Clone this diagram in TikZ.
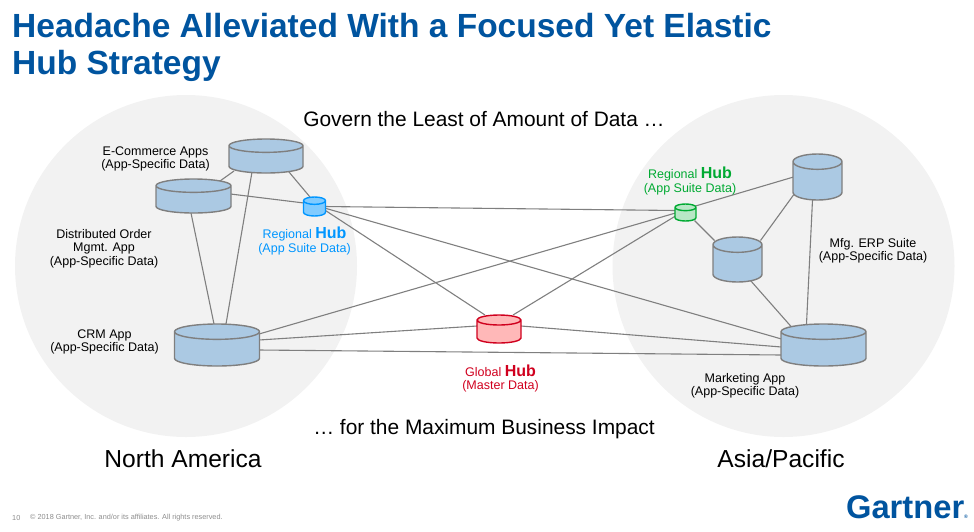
\documentclass[tikz,border=0pt]{standalone}
\usepackage{fontspec}
\setmainfont{Liberation Sans}
\usetikzlibrary{shapes.geometric,backgrounds}
\definecolor{gartblue}{RGB}{0,84,159}
\definecolor{discgrey}{RGB}{242,242,242}
\definecolor{dbgrey}{RGB}{127,127,127}
\definecolor{dbbody}{RGB}{171,201,227}
\definecolor{bluehub}{RGB}{0,150,255}
\definecolor{greenhub}{RGB}{0,170,50}
\definecolor{redhub}{RGB}{208,0,30}
\tikzset{
  {db/.style} ={cylinder, shape border rotate=90, draw=dbgrey, line width=1.4pt,
                cylinder uses custom fill, cylinder body fill=dbbody,
                cylinder end fill=dbbody, outer sep=0, anchor=shape center},
  {hub/.style 2 args} ={db, draw=#1, cylinder body fill=#2, cylinder end fill=#2},
  {disc/.style} ={circle, fill=discgrey, minimum size=342pt, inner sep=0},
  {link/.style} ={draw=dbgrey, line width=1.1pt},
  {caption/.style} ={align=center, inner sep=0, font=\fontsize{12.5}{13.5}\selectfont},
  {claim/.style} ={inner sep=0, font=\fontsize{20.9}{24}\selectfont},
  {region/.style} ={inner sep=0, font=\fontsize{24.6}{30}\selectfont},
  {foot/.style} ={inner sep=0, anchor=west, text=black!45, font=\fontsize{7.3}{9}\selectfont},
}
\newcommand{\hubword}{\textbf{\fontsize{16}{13.5}\selectfont Hub}}
\begin{document}
\begin{tikzpicture}[x=1pt,y=-1pt]
    \useasboundingbox (0,0) rectangle (974,531);
    \node[inner sep=0,anchor=north west,align=left,text=gartblue,
      font=\bfseries\fontsize{33.5}{37}\selectfont] (title) at (12,13)
      {Headache Alleviated With a Focused Yet Elastic\\Hub Strategy};
    % stores
    \node[db,minimum width=74pt,minimum height=34pt,shape aspect=2] (ecom) at (266,156) {};
    \node[db,minimum width=75pt,minimum height=34pt,shape aspect=2] (order) at (193.5,196) {};
    \node[db,minimum width=85pt,minimum height=42pt,shape aspect=2.3] (crm) at (217,345) {};
    \node[db,minimum width=49pt,minimum height=46pt,shape aspect=2.3] (erptop) at (817.5,177) {};
    \node[db,minimum width=49pt,minimum height=45pt,shape aspect=2.3] (erplow) at (737.5,259.5) {};
    \node[db,minimum width=85pt,minimum height=42pt,shape aspect=2.3] (market) at (823.5,345) {};
    % hubs
    \node[hub={bluehub}{bluehub!50},minimum width=22pt,minimum height=19pt,shape aspect=1.1] (blue) at (314.5,206.5) {};
    \node[hub={greenhub}{greenhub!28},minimum width=21pt,minimum height=17pt,shape aspect=1] (green) at (685.5,212.5) {};
    \node[hub={redhub}{red!28},minimum width=44pt,minimum height=28pt,shape aspect=1.5] (global) at (499,329) {};
    \begin{scope}[on background layer]
      \node[disc] (america) at (186,266) {};
      \node[disc] (asia) at (783.5,266) {};
      \draw[link] ([shift={(-32,15)}]ecom.shape center) -- ([shift={(26.5,-15)}]order.shape center);
      \draw[link] ([shift={(-14,16)}]ecom.shape center) -- ([shift={(9,-21)}]crm.shape center);
      \draw[link] ([shift={(23,16)}]ecom.shape center) -- ([shift={(-4.5,-9.5)}]blue.shape center);
      \draw[link] ([shift={(-2.5,17)}]order.shape center) -- ([shift={(-3,-21)}]crm.shape center);
      \draw[link] ([shift={(37,-2)}]order.shape center) -- ([shift={(-10.5,-3.5)}]blue.shape center);
      \draw[link] ([shift={(10,0)}]blue.shape center) -- ([shift={(-10,-2)}]green.shape center);
      \draw[link] ([shift={(10,1.5)}]blue.shape center) -- ([shift={(-42,-6)}]market.shape center);
      \draw[link] ([shift={(11,4)}]blue.shape center) -- ([shift={(-14,-14)}]global.shape center);
      \draw[link] ([shift={(42,-11)}]crm.shape center) -- ([shift={(-10,0.5)}]green.shape center);
      \draw[link] ([shift={(42,-5)}]crm.shape center) -- ([shift={(-22,-3)}]global.shape center);
      \draw[link] ([shift={(42,5)}]crm.shape center) -- ([shift={(-42,10)}]market.shape center);
      \draw[link] ([shift={(22,-3)}]global.shape center) -- ([shift={(-42,2)}]market.shape center);
      \draw[link] ([shift={(14,-14)}]global.shape center) -- ([shift={(-10,3.5)}]green.shape center);
      \draw[link] ([shift={(10,-6.5)}]green.shape center) -- ([shift={(-24,0)}]erptop.shape center);
      \draw[link] ([shift={(9,8)}]green.shape center) -- ([shift={(-23,-19)}]erplow.shape center);
      \draw[link] ([shift={(23,-19)}]erplow.shape center) -- ([shift={(-24,18)}]erptop.shape center);
      \draw[link] ([shift={(13,21)}]erplow.shape center) -- ([shift={(-32,-18)}]market.shape center);
      \draw[link] ([shift={(-5,23)}]erptop.shape center) -- ([shift={(-17,-21)}]market.shape center);
    \end{scope}
    % labels
    \node[caption] (ecomtext) at (155.5,159) {E-Commerce Apps\\(App-Specific Data)};
    \node[caption] (ordertext) at (104,248.5) {Distributed Order\\Mgmt. App\\(App-Specific Data)};
    \node[caption] (crmtext) at (104.5,342) {CRM App\\(App-Specific Data)};
    \node[caption] (erptext) at (873,251) {Mfg. ERP Suite\\(App-Specific Data)};
    \node[caption] (markettext) at (745,386) {Marketing App\\(App-Specific Data)};
    \node[caption,text=bluehub] (bluetext) at (304.5,241) {Regional \hubword\\(App Suite Data)};
    \node[caption,text=greenhub] (greentext) at (690,181) {Regional \hubword\\(App Suite Data)};
    \node[caption,text=redhub] (globaltext) at (500.5,378.5) {Global \hubword\\(Master Data)};
    \node[claim] (govern) at (484,119.5) {Govern the Least of Amount of Data …};
    \node[claim] (impact) at (484,429.5) {… for the Maximum Business Impact};
    \node[region] (americatext) at (183,459) {North America};
    \node[region] (asiatext) at (781,459) {Asia/Pacific};
    \node[foot] (page) at (12,518) {10};
    \node[foot] (rights) at (30,518) {© 2018 Gartner, Inc. and/or its affiliates. All rights reserved.};
    \node[inner sep=0,text=gartblue,font=\bfseries\fontsize{32.7}{36}\selectfont] (logo) at (907,507)
      {Gartner\raisebox{0pt}{\fontsize{5}{5}\selectfont ®}};
\end{tikzpicture}
\end{document}
